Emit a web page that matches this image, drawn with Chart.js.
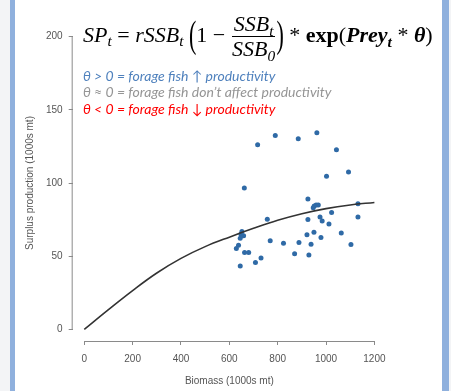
<!DOCTYPE html>
<html>
<head>
<meta charset="utf-8">
<script src="https://cdn.jsdelivr.net/npm/chart.js@4.4.0/dist/chart.umd.min.js"></script>
<style>
  body { margin: 0; background: #fff; }
  #wrap { position: relative; width: 451px; height: 391px; overflow: hidden; background: #f3f4f6; }
  #frame { position: absolute; left: 10px; top: 0; width: 427px; height: 391px; background: #fff;
           border-left: 5px solid #8fb0dd; border-right: 7px solid #8fb0dd; }
  #chart { position: absolute; left: 0; top: 0; }
  #eq { position: absolute; left: 83px; top: 13px; font-family: 'Liberation Serif', serif; font-size: 22px;
        font-style: italic; white-space: nowrap; color: #000; line-height: 1; }
  #eq .up { font-style: normal; }
  #eq sub { font-size: .7em; vertical-align: -0.3em; line-height: 0; }
  #eq .frac { display: inline-block; vertical-align: middle; text-align: center; margin: 0 1px; }
  #eq .num { display: block; border-bottom: 1px solid #000; padding: 0 2px 1px; }
  #eq .den { display: block; padding-top: 1px; }
  #eq .big { font-style: normal; display: inline-block; transform: scaleY(1.7); font-weight: 300; }
  #legend { position: absolute; left: 83px; top: 67.6px; font-family: Lato, 'Open Sans', sans-serif;
            font-style: italic; font-size: 14px; line-height: 16.7px; white-space: nowrap; }
</style>
</head>
<body>
<div id="wrap">
  <div id="frame"></div>
  <canvas id="chart" width="451" height="391"></canvas>
  <div id="eq">SP<sub>t</sub> <span class="up">=</span> rSSB<sub>t</sub> <span class="big">(</span><span class="up">1 −</span> <span class="frac"><span class="num">SSB<sub>t</sub></span><span class="den">SSB<sub>0</sub></span></span><span class="big">)</span> <span class="up">*</span> <b class="up">exp</b><span class="up">(</span><b>Prey<sub>t</sub></b> <span class="up">*</span> <b>θ</b><span class="up">)</span></div>
  <div id="legend">
    <div style="color:#4f81bd">θ &gt; 0 = forage fish ↑ productivity</div>
    <div style="color:#959595">θ ≈ 0 = forage fish don’t affect productivity</div>
    <div style="color:#ff0000">θ &lt; 0 = forage fish ↓ productivity</div>
  </div>
</div>
<script>
// observed biomass vs surplus production (1000s mt)
const biomass = [790, 717, 885, 962, 1043, 1002, 1093, 662, 925, 947, 951, 959, 968, 1132,
  757, 925, 975, 984, 1023, 1012, 1132, 652, 648, 659, 645, 769, 824, 888, 921, 950,
  979, 1063, 938, 1103, 638, 629, 663, 680, 870, 929, 731, 708, 645]
const surplus = [132.5, 126.1, 130.2, 134.3, 122.7, 104.6, 107.5, 96.6, 89, 83, 84.3, 85, 85, 85.9,
  75.3, 75, 76.8, 74.1, 79.8, 71.9, 76.8, 66.8, 65, 63.9, 62.3, 60.5, 58.9, 59.3, 64.6, 66.4,
  62.7, 65.9, 58.2, 58, 57.5, 55.2, 52.5, 52.5, 51.6, 50.7, 48.7, 45.7, 43.2]

// fitted curve
const curveB = [0, 100, 200, 300, 400, 500, 600, 700, 800, 900, 1000, 1100, 1200]
const curveSP = [0, 13.5, 26.5, 38.5, 48.5, 56.5, 63, 69, 74.5, 79, 82.5, 85, 86.7]

const xTicks = [0, 200, 400, 600, 800, 1000, 1200]
const yTicks = [0, 50, 100, 150, 200]

const axisCol = '#8a8a8a'
const textCol = '#555'

// R style axis lines: only from first to last tick
const rAxes = {
  id: 'rAxes',
  afterDraw(chart) {
    const ctx = chart.ctx
    const x = chart.scales.x, y = chart.scales.y
    ctx.save()
    ctx.strokeStyle = axisCol
    ctx.lineWidth = 1
    ctx.beginPath()
    ctx.moveTo(x.getPixelForValue(xTicks[0]), x.top + 0.5)
    ctx.lineTo(x.getPixelForValue(xTicks[xTicks.length - 1]), x.top + 0.5)
    ctx.moveTo(y.right - 0.5, y.getPixelForValue(yTicks[0]))
    ctx.lineTo(y.right - 0.5, y.getPixelForValue(yTicks[yTicks.length - 1]))
    ctx.stroke()
    ctx.restore()
  }
}

const tickFont = { family: "'Liberation Sans', Arial, sans-serif", size: 10 }

new Chart(document.getElementById('chart'), {
  type: 'scatter',
  data: {
    datasets: [
      {
        type: 'line',
        data: curveB.map((b, i) => ({ x: b, y: curveSP[i] })),
        borderColor: '#333',
        borderWidth: 1.6,
        pointRadius: 0,
        tension: 0.4,
        fill: false
      },
      {
        data: biomass.map((b, i) => ({ x: b, y: surplus[i] })),
        backgroundColor: '#2f6aa6',
        borderWidth: 0,
        pointRadius: 2.5
      }
    ]
  },
  options: {
    responsive: false,
    animation: false,
    layout: { padding: { left: 24, right: 65, top: 25, bottom: 0 } },
    plugins: { legend: { display: false }, tooltip: { enabled: false } },
    scales: {
      x: {
        type: 'linear',
        min: -48, max: 1248,
        afterBuildTicks: s => { s.ticks = xTicks.map(v => ({ value: v })) },
        border: { display: false },
        grid: { drawOnChartArea: false, tickLength: 4, color: axisCol },
        ticks: { font: tickFont, color: textCol, padding: 8, maxRotation: 0, callback: v => String(v) },
        title: { display: true, text: 'Biomass (1000s mt)', font: tickFont, color: textCol, padding: { top: 2, bottom: 4 } }
      },
      y: {
        type: 'linear',
        min: -8, max: 208,
        afterBuildTicks: s => { s.ticks = yTicks.map(v => ({ value: v })) },
        border: { display: false },
        grid: { drawOnChartArea: false, tickLength: 4, color: axisCol },
        ticks: { font: tickFont, color: textCol, padding: 6, callback: v => String(v) },
        title: { display: true, text: 'Surplus production (1000s mt)', font: tickFont, color: textCol, padding: { top: 0, bottom: 4 } }
      }
    }
  },
  plugins: [rAxes]
})
</script>
</body>
</html>
